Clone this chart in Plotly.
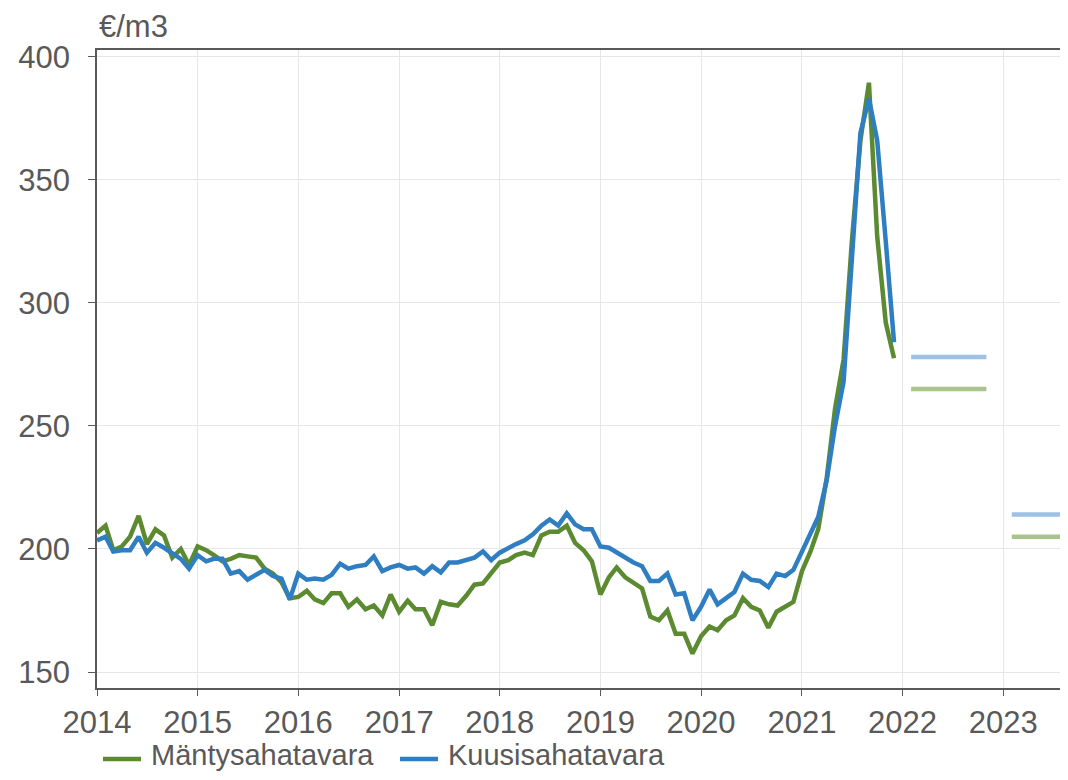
import pandas as pd
import plotly.graph_objects as go

# monthly sawn timber export prices, Jan 2014 - Dec 2021 (€/m3)
months = pd.date_range("2014-01-01", periods=96, freq="MS")

mänty = [
    206.5, 209.5, 199.5, 201, 205, 213.5, 202, 208, 205.5, 196.5, 200, 193.5,
    201, 199.5, 197.5, 195, 196, 197.5, 197, 196.5, 192, 190, 186.5, 180,
    180.5, 183, 179.5, 178, 182, 182, 176.5, 179.5, 175.5, 177, 173, 181.5,
    174.5, 179, 175.5, 175.5, 169, 178.5, 177.5, 177, 181, 185.5, 186, 190,
    194.5, 195.5, 197.5, 198.5, 197.5, 205.5, 207, 207, 209.5, 202.5, 199.5, 195,
    181.5, 188.5, 192.5, 188.5, 186.5, 184, 172.5, 171, 175, 165.5, 165.5, 157.5,
    164.5, 168.5, 167, 171, 173, 180, 176.5, 175, 168, 174.5, 176.5, 178.5,
    191, 199, 208, 229, 257, 277, 325, 366, 389.5, 327, 292, 277.5,
]

kuusi = [
    203.5, 205, 199, 199.5, 199.5, 205, 198.5, 202.5, 200.5, 198.5, 196, 192,
    197.5, 195, 196, 196, 190, 191, 187.5, 189.5, 191.5, 189, 188, 179.5,
    190, 187.5, 188, 187.5, 189.5, 194, 192, 193, 193.5, 197, 191, 192.5,
    193.5, 192, 192.5, 190, 193, 190.5, 194.5, 194.5, 195.5, 196.5, 199, 195.5,
    198.5, 200.5, 202, 203.5, 206, 209.5, 212, 209.5, 214.5, 210, 208, 208,
    201, 200.5, 198.5, 196.5, 194.5, 193, 187, 187, 190, 181.5, 182, 171,
    176.5, 183.5, 177.5, 180, 182.5, 190, 187.5, 187, 184.5, 190, 189, 191.5,
    199, 206, 213, 228, 250, 268, 318, 369, 383, 366, 325, 284,
]

# forecasts (annual averages)
forecast_years = [2022, 2023]
forecast_mänty = [265, 205]
forecast_kuusi = [278, 214]

series_names = ["Mäntysahatavara", "Kuusisahatavara"]

green = "#5b8a30"
blue = "#2e7ec1"
green_light = "#a9c38e"
blue_light = "#9dc2e4"
grey = "#595959"
font = "Liberation Sans, Arial, sans-serif"

# the page body has an 8px margin on every side; keep the figure inside the
# window so no scrollbars show up
OFF = 8
W, H = 1068 - 2 * OFF, 780 - 2 * OFF
L, R, T, B = 89, 0, 42, 84
pw, ph = W - L - R, H - T - B


def px_x(x):
    # window pixel -> paper x
    return (x - OFF - L) / pw


def px_y(y):
    # window pixel -> paper y
    return (H - B - (y - OFF)) / ph


fig = go.Figure()

fig.add_trace(go.Scatter(x=months, y=mänty, mode="lines", name=series_names[0],
                         line=dict(color=green, width=4.5)))
fig.add_trace(go.Scatter(x=months, y=kuusi, mode="lines", name=series_names[1],
                         line=dict(color=blue, width=4.5)))

# forecast bars, drawn as short flat lines inside each year
for year, m_val, k_val in zip(forecast_years, forecast_mänty, forecast_kuusi):
    span = [f"{year}-02-01", f"{year}-11-01"]
    fig.add_trace(go.Scatter(x=span, y=[k_val, k_val], mode="lines",
                             line=dict(color=blue_light, width=4.5)))
    fig.add_trace(go.Scatter(x=span, y=[m_val, m_val], mode="lines",
                             line=dict(color=green_light, width=4.5)))

# legend drawn by hand so it can sit low like the original
legend_items = [(series_names[0], green, 103), (series_names[1], blue, 400)]
shapes = []
annotations = []
for name, color, x0 in legend_items:
    shapes.append(dict(type="line", xref="paper", yref="paper",
                       x0=px_x(x0), x1=px_x(x0 + 38), y0=px_y(759), y1=px_y(759),
                       line=dict(color=color, width=4.5)))
    annotations.append(dict(text=name, xref="paper", yref="paper",
                            x=px_x(x0 + 46), y=px_y(755), xanchor="left", yanchor="middle",
                            showarrow=False, font=dict(size=29, color=grey)))

annotations.append(dict(text="€/m3", xref="paper", yref="paper", x=0, y=1.0,
                        xanchor="left", yanchor="bottom", yshift=4, showarrow=False,
                        font=dict(size=31, color=grey)))

fig.update_layout(
    width=W, height=H,
    margin=dict(l=L, r=R, t=T, b=B),
    plot_bgcolor="white", paper_bgcolor="white",
    font=dict(family=font, size=31, color=grey),
    showlegend=False,
    shapes=shapes,
    annotations=annotations,
)

fig.update_xaxes(
    range=["2014-01-01", "2023-07-26"], dtick="M12", tickformat="%Y",
    showgrid=True, gridcolor="#e6e6e6", gridwidth=1,
    showline=True, linecolor=grey, linewidth=1.5, mirror=True,
    ticks="outside", ticklen=6, tickcolor=grey, zeroline=False,
    automargin=False,
)
fig.update_yaxes(
    range=[143.5, 402.8], tickvals=[150, 200, 250, 300, 350, 400],
    showgrid=True, gridcolor="#e6e6e6", gridwidth=1,
    showline=True, linecolor=grey, linewidth=1.5,
    ticks="outside", ticklen=7, tickcolor=grey, zeroline=False,
    ticklabelstandoff=12, automargin=False,
)

fig.write_html("out.html")
